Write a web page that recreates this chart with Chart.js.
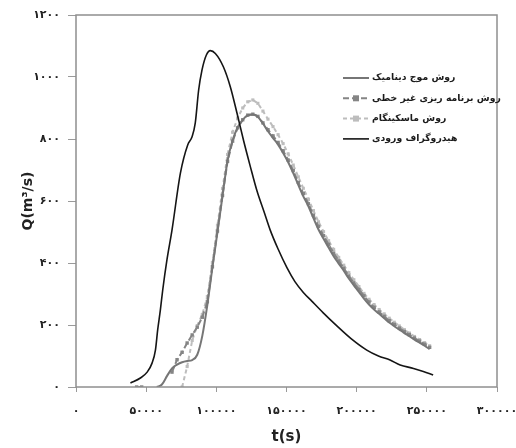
<!DOCTYPE html>
<html><head><meta charset="utf-8">
<script src="https://cdn.jsdelivr.net/npm/chart.js@4/dist/chart.umd.min.js"></script>
<style>html,body{margin:0;padding:0;background:#fff;}#wrap{width:516px;height:448px;}</style>
</head><body><div id="wrap"><canvas id="c" width="516" height="448"></canvas></div>
<script>
const FONT = "'DejaVu Sans', sans-serif";
const seriesLabels = ['روش موج دینامیک', 'روش برنامه ریزی غیر خطی', 'روش ماسکینگام', 'هیدروگراف ورودی'];
const xTickLabels = ['۰', '۵۰۰۰۰', '۱۰۰۰۰۰', '۱۵۰۰۰۰', '۲۰۰۰۰۰', '۲۵۰۰۰۰', '۳۰۰۰۰۰'];
const yTickLabels = ['۰', '۲۰۰', '۴۰۰', '۶۰۰', '۸۰۰', '۱۰۰۰', '۱۲۰۰'];
const xAxisTitle = 't(s)';
const yAxisTitle = 'Q(m³/s)';

const routedTimes = [43200, 46800, 50400, 54000, 57600, 61200, 64800, 68400, 72000, 75600,
  79200, 82800, 86400, 90000, 93600, 97200, 100800, 104400, 108000, 111600,
  115200, 118800, 122400, 126000, 129600, 133200, 136800, 140400, 144000, 147600,
  151200, 154800, 158400, 162000, 165600, 169200, 172800, 176400, 180000, 183600,
  187200, 190800, 194400, 198000, 201600, 205200, 208800, 212400, 216000, 219600,
  223200, 226800, 230400, 234000, 237600, 241200, 244800, 248400, 252000];

const dynamicWave = [null, null, null, null, 0, 8, 35, 60, 72, 80,
  84, 87, 104, 165, 265, 385, 500, 616, 730, 795,
  838, 862, 876, 879, 872, 850, 825, 803, 782, 755,
  725, 690, 652, 615, 583, 545, 508, 478, 450, 422,
  398, 375, 350, 328, 307, 285, 266, 250, 236, 222,
  208, 196, 185, 174, 164, 153, 143, 133, 122];

const nonlinearProg = [0, 0, null, null, null, null, null, 48, 88, 112,
  142, 168, 193, 225, 275, 388, 503, 618, 728, 793,
  836, 862, 877, 880, 873, 852, 830, 810, 789, 762,
  732, 698, 660, 624, 591, 554, 518, 488, 460, 432,
  407, 383, 358, 336, 315, 294, 274, 257, 242, 228,
  214, 202, 190, 179, 169, 158, 148, 138, 128];

const muskingum = [null, null, null, null, null, null, null, null, null, 0,
  66, 150, 198, 234, 292, 402, 522, 640, 750, 822,
  868, 900, 920, 926, 915, 890, 864, 840, 814, 785,
  752, 716, 678, 641, 606, 569, 533, 501, 472, 444,
  418, 393, 369, 346, 324, 302, 283, 266, 250, 236,
  222, 209, 197, 185, 174, 163, 153, 143, 133];

const inflowTimes = [38800, 45900, 50700, 54200, 56600, 58200, 60100, 61800, 64800, 68400,
  74400, 79600, 82700, 85000, 87400, 89800, 92900, 95700, 99300, 105000,
  110000, 114700, 119400, 124000, 129000, 134000, 138400, 144000, 150300, 156000,
  162000, 168000, 176000, 185900, 196000, 207200, 215500, 223800, 231000, 240500,
  247500, 254500];
const inflowValues = [13, 29, 48, 77, 119, 184, 248, 313, 410, 506,
  690, 781, 807, 852, 958, 1023, 1071, 1085, 1076, 1033,
  968, 884, 795, 715, 632, 565, 506, 445, 385, 340,
  305, 277, 240, 197, 156, 119, 100, 87, 71, 60,
  50, 39];

function pairs(xs, ys) { return xs.map((x, i) => ({x: x, y: ys[i]})); }

const legendPlugin = {
  id: 'boxLegend',
  afterDraw(chart) {
    const {ctx, chartArea} = chart;
    const x0 = chartArea.left + 267;
    const y0 = chartArea.top + 63;
    ctx.save();
    ctx.font = "bold 11px " + FONT;
    let widest = 0;
    chart.data.datasets.forEach(ds => { widest = Math.max(widest, ctx.measureText(ds.label).width); });
    const size = Math.min(11, 11 * 129 / widest);
    ctx.restore();
    chart.data.datasets.forEach((ds, i) => {
      const y = y0 + i * 20.3;
      ctx.save();
      ctx.strokeStyle = ds.borderColor;
      ctx.lineWidth = ds.borderWidth;
      ctx.setLineDash(ds.borderDash || []);
      ctx.beginPath(); ctx.moveTo(x0, y); ctx.lineTo(x0 + 26, y); ctx.stroke();
      ctx.setLineDash([]);
      if (ds.pointRadius > 0) {
        ctx.fillStyle = ds.pointBackgroundColor;
        ctx.fillRect(x0 + 13 - 3, y - 3, 6, 6);
      }
      ctx.fillStyle = '#1a1a1a';
      ctx.font = "bold " + size.toFixed(2) + "px " + FONT;
      ctx.textAlign = 'left';
      ctx.textBaseline = 'middle';
      ctx.direction = 'rtl';
      ctx.fillText(ds.label, x0 + 29, y);
      ctx.restore();
    });
  }
};

const framePlugin = {
  id: 'frame',
  afterDatasetsDraw(chart) {
    const {ctx, chartArea: a} = chart;
    ctx.save();
    ctx.strokeStyle = '#8f8f8f';
    ctx.lineWidth = 1.5;
    ctx.strokeRect(a.left, a.top, a.right - a.left, a.bottom - a.top);
    ctx.restore();
  }
};

new Chart(document.getElementById('c'), {
  type: 'scatter',
  data: {
    datasets: [
      {label: seriesLabels[0], data: pairs(routedTimes, dynamicWave), showLine: true,
       borderColor: '#767676', backgroundColor: '#767676', borderWidth: 2, pointRadius: 0,
       cubicInterpolationMode: 'monotone', spanGaps: false, order: 2},
      {label: seriesLabels[1], data: pairs(routedTimes, nonlinearProg), showLine: true,
       borderColor: '#858585', backgroundColor: '#858585', pointBackgroundColor: '#858585',
       pointBorderColor: '#858585', borderWidth: 2, borderDash: [6, 3], pointStyle: 'rect',
       pointRadius: 2.4, pointBorderWidth: 0, spanGaps: false, order: 3},
      {label: seriesLabels[2], data: pairs(routedTimes, muskingum), showLine: true,
       borderColor: '#bdbdbd', backgroundColor: '#bdbdbd', pointBackgroundColor: '#bdbdbd',
       pointBorderColor: '#bdbdbd', borderWidth: 2, borderDash: [4, 3], pointStyle: 'rect',
       pointRadius: 2.2, pointBorderWidth: 0, spanGaps: false, order: 4},
      {label: seriesLabels[3], data: pairs(inflowTimes, inflowValues), showLine: true,
       borderColor: '#151515', backgroundColor: '#151515', borderWidth: 1.6, pointRadius: 0,
       cubicInterpolationMode: 'monotone', order: 1}
    ]
  },
  options: {
    responsive: false,
    animation: false,
    devicePixelRatio: 1,
    layout: {padding: {top: 15, right: 19, left: 0, bottom: 0}},
    plugins: {legend: {display: false}, tooltip: {enabled: false}},
    scales: {
      x: {
        type: 'linear', min: 0, max: 300000,
        border: {display: false},
        grid: {display: true, drawOnChartArea: false, drawTicks: true, tickLength: 5, color: '#9a9a9a'},
        ticks: {stepSize: 50000, padding: 13, color: '#222', font: {family: FONT, size: 11, weight: 'bold'},
          maxRotation: 0, autoSkip: false,
          callback: (v, i) => xTickLabels[i]},
        title: {display: true, text: xAxisTitle, color: '#222', font: {family: FONT, size: 15, weight: 'bold'},
          padding: {top: 0, bottom: 2}},
        afterFit: (s) => { s.height = 61; s.paddingLeft = 0; s.paddingRight = 0; }
      },
      y: {
        type: 'linear', min: 0, max: 1200,
        border: {display: false},
        grid: {display: true, drawOnChartArea: false, drawTicks: true, tickLength: 8, color: '#9a9a9a'},
        ticks: {stepSize: 200, padding: 8, color: '#222', font: {family: FONT, size: 11, weight: 'bold'},
          callback: (v, i) => yTickLabels[i]},
        title: {display: true, text: yAxisTitle, color: '#222', font: {family: FONT, size: 14, weight: 'bold'},
          padding: {top: 20, bottom: 0}},
        afterFit: (s) => { s.width = 76; s.paddingTop = 0; s.paddingBottom = 0; }
      }
    }
  },
  plugins: [framePlugin, legendPlugin]
});
</script>
</body></html>
